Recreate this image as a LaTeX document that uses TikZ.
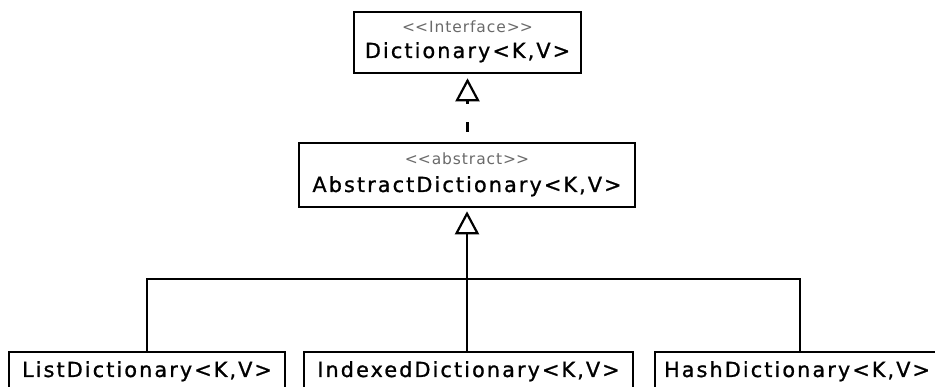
\documentclass[tikz,border=0pt]{standalone}
\usepackage{fontspec}
\usetikzlibrary{arrows.meta}
\newfontfamily\umlname{DejaVu Sans}[LetterSpace=10,FakeBold=1]
\newfontfamily\umlst{DejaVu Sans}[LetterSpace=6]
\definecolor{stgray}{HTML}{6A6A6A}
\begin{document}
\begin{tikzpicture}[x=1pt,y=-1pt,
  umlbox/.style={draw=black,line width=2.6pt,fill=white,inner sep=0pt,minimum width=#1,minimum height=61pt},
  nmtext/.style={anchor=base,inner sep=0pt,font=\umlname\fontsize{20.8}{24}\selectfont},
  sttext/.style={anchor=base,inner sep=0pt,text=stgray,font=\umlst\fontsize{15.5}{18}\selectfont},
  conn/.style={line width=2.4pt},
  gen/.style={-{Triangle[open,length=23pt,width=24pt,line width=2.2pt]}}
]
\useasboundingbox (0,0) rectangle (935,387);
\clip (0,0) rectangle (935,387);
\fill[white] (0,0) rectangle (935,387);
% boxes
\node[umlbox=227pt] (dict) at (467.5,42.5) {};
\node[umlbox=336pt,minimum height=64pt] (abs) at (467,175) {};
\node[umlbox=276pt,minimum height=50pt] (list) at (147,377) {};
\node[umlbox=329pt,minimum height=50pt] (idx) at (468.5,377) {};
\node[umlbox=290pt,minimum height=50pt] (hash) at (800,377) {};
% texts
\node[sttext] (dictst) at (467.5,33) {<\kern0pt<Interface>\kern0pt>};
\node[nmtext] (dictnm) at (467.5,58) {Dictionary<K,V>};
\node[sttext] (absst) at (467,165) {<\kern0pt<abstract>\kern0pt>};
\node[nmtext] (absnm) at (467,192) {AbstractDictionary<K,V>};
\node[nmtext] (listnm) at (147,377) {ListDictionary<K,V>};
\node[nmtext] (idxnm) at (468.5,377) {IndexedDictionary<K,V>};
\node[nmtext] (hashnm) at (797,377) {HashDictionary<K,V>};
% connectors
\coordinate (hub) at (468,279);
\draw[conn,dash pattern=on 10pt off 18pt,dash phase=18pt,gen,shorten >=4pt] (abs.north -| dict.south) -- (dict.south);
\draw[conn,gen,shorten >=3pt] (idx.north -| abs.south) -- (abs.south);
\draw[conn] (list.north) |- (hub) -| (hash.north);
\end{tikzpicture}
\end{document}
